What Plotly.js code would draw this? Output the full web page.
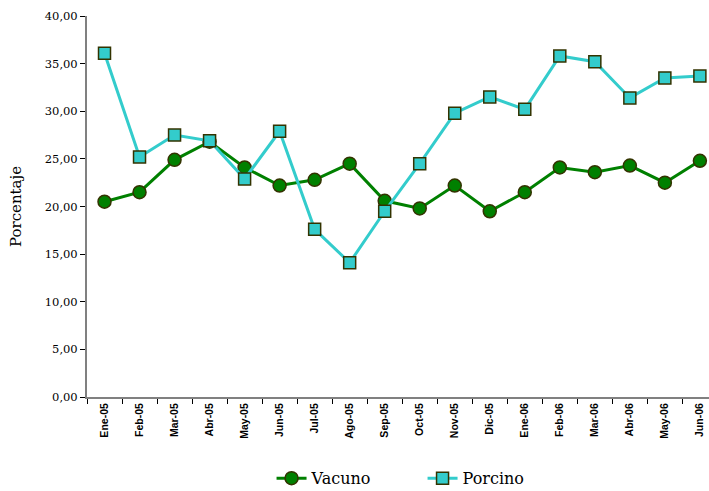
<!DOCTYPE html>
<html>
<head>
<meta charset="utf-8">
<script src="https://cdn.plot.ly/plotly-3.0.1.min.js"></script>
<style>html,body{margin:0;padding:0;background:#fff;overflow:hidden}#chart{width:709px;height:491px}</style>
</head>
<body>
<div id="chart"></div>
<script>
const categories = ["Ene-05","Feb-05","Mar-05","Abr-05","May-05","Jun-05","Jul-05","Ago-05","Sep-05","Oct-05","Nov-05","Dic-05","Ene-06","Feb-06","Mar-06","Abr-06","May-06","Jun-06"];
const vacuno = [20.5,21.5,24.9,26.8,24.1,22.2,22.8,24.5,20.6,19.8,22.2,19.5,21.5,24.1,23.6,24.3,22.5,24.8];
const porcino = [36.1,25.2,27.5,26.9,22.9,27.9,17.6,14.1,19.5,24.5,29.8,31.5,30.2,35.8,35.2,31.4,33.5,33.7];

const SERIF = "DejaVu Serif";
const traces = [
  {x: categories, y: vacuno, name: "Vacuno", type: "scatter", mode: "lines+markers",
   line: {color: "#008000", width: 3},
   marker: {symbol: "circle", size: 13, color: "#008000", line: {color: "#333300", width: 1.5}}},
  {x: categories, y: porcino, name: "Porcino", type: "scatter", mode: "lines+markers",
   line: {color: "#33CCCC", width: 3},
   marker: {symbol: "square", size: 12, color: "#33CCCC", line: {color: "#333300", width: 1.5}}}
];

const layout = {
  width: 709, height: 491,
  margin: {l: 87, r: 0, t: 16, b: 94, autoexpand: false},
  paper_bgcolor: "#fff", plot_bgcolor: "#fff",
  separators: ",.",
  showlegend: true,
  legend: {orientation: "h", x: 0.383, xanchor: "left", xref: "container",
           y: 0.026, yanchor: "middle", yref: "container",
           entrywidth: 106, entrywidthmode: "pixels",
           font: {family: SERIF, size: 16, color: "#000"}},
  xaxis: {type: "category", range: [-0.5, 17.26], showgrid: false, zeroline: false,
          showline: true, linecolor: "#808080", linewidth: 2, automargin: false,
          ticks: "outside", ticklen: 5, tickcolor: "#000", tickson: "boundaries",
          tickangle: -90, tickfont: {family: "Liberation Sans, Arial, sans-serif", size: 10.5, color: "#000", weight: "bold"}},
  yaxis: {range: [0, 40], dtick: 5, tickformat: ".2f", showgrid: false, zeroline: false,
          showline: true, linecolor: "#808080", linewidth: 2, automargin: false,
          ticks: "outside", ticklen: 5, tickcolor: "#000",
          tickfont: {family: SERIF, size: 11.5, color: "#000"},
          title: {text: "Porcentaje", font: {family: SERIF, size: 15, color: "#000"}, standoff: 20}}
};

Plotly.newPlot("chart", traces, layout, {displayModeBar: false, staticPlot: true});
</script>
</body>
</html>
